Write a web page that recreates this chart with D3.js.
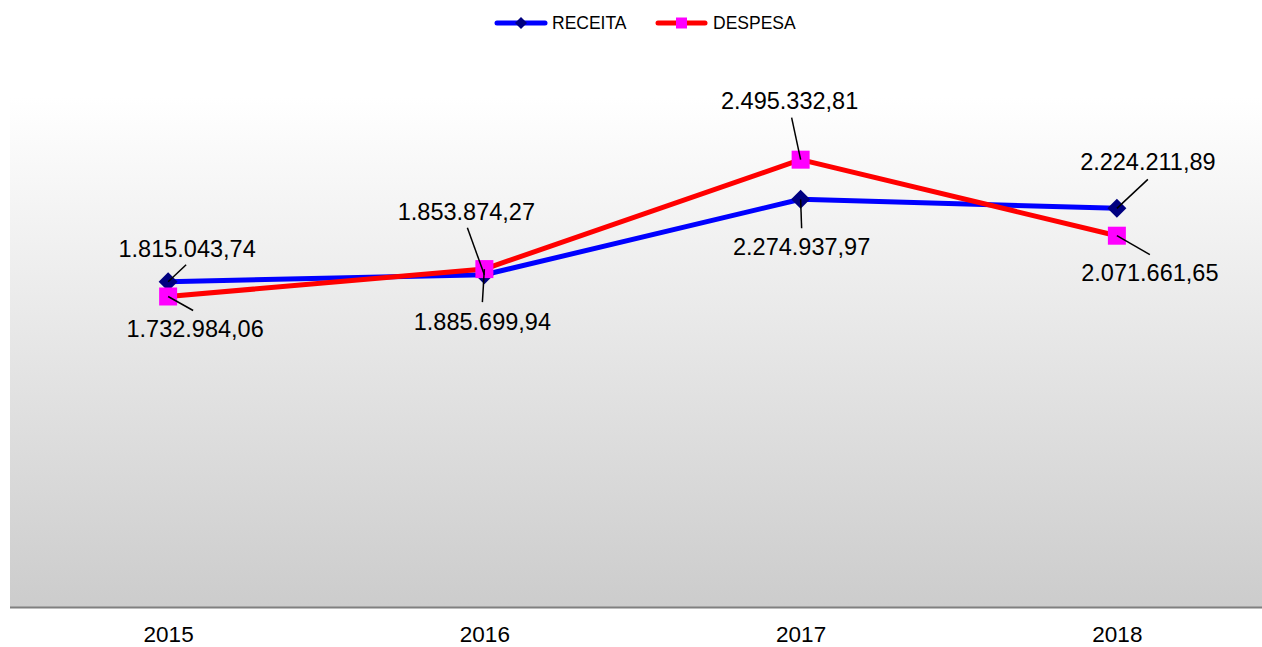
<!DOCTYPE html>
<html>
<head>
<meta charset="utf-8">
<script src="https://cdn.jsdelivr.net/npm/d3@7"></script>
<style>
  html, body { margin: 0; padding: 0; background: #fff; }
  svg { display: block; font-family: Arial, "Liberation Sans", sans-serif; }
</style>
</head>
<body>
<svg id="chart" width="1262" height="647"></svg>
<script>
// Anos e valores (R$)
const years = ["2015", "2016", "2017", "2018"];
const receita = [1815043.74, 1853874.27, 2274937.97, 2224211.89];
const despesa = [1732984.06, 1885699.94, 2495332.81, 2071661.65];
const valueLabels = {
  RECEITA: ["1.815.043,74", "1.853.874,27", "2.274.937,97", "2.224.211,89"],
  DESPESA: ["1.732.984,06", "1.885.699,94", "2.495.332,81", "2.071.661,65"]
};

// Posição manual dos rótulos (deslocamento a partir do marcador) e das linhas de chamada
const labelLayout = {
  RECEITA: [
    { dx: 19,  dy: -25, lx: 18,  ly: -17 },
    { dx: -18, dy: -55, lx: -17, ly: -47 },
    { dx: 1,   dy: 56,  lx: 1,   ly: 29 },
    { dx: 31,  dy: -38, lx: 31,  ly: -29 }
  ],
  DESPESA: [
    { dx: 27,  dy: 41,  lx: 25,  ly: 14 },
    { dx: -2,  dy: 61,  lx: -2,  ly: 33 },
    { dx: -11, dy: -51, lx: -9,  ly: -42 },
    { dx: 33,  dy: 45,  lx: 33,  ly: 19 }
  ]
};

const series = [
  { name: "RECEITA", values: receita, line: "#0000FF", marker: "#000080", shape: "diamond" },
  { name: "DESPESA", values: despesa, line: "#FF0000", marker: "#FF00FF", shape: "square" }
];

const svg = d3.select("#chart");
const plot = { left: 10, right: 1275, top: 97, bottom: 607.5 };

const x = d3.scalePoint().domain(years).range([plot.left, plot.right]).padding(0.5);
const y = d3.scaleLinear().domain([0, 2800000]).range([plot.bottom, 105]);

// Fundo em degradê da área de plotagem
const defs = svg.append("defs");
const grad = defs.append("linearGradient").attr("id", "bg").attr("x1", 0).attr("y1", 0).attr("x2", 0).attr("y2", 1);
grad.append("stop").attr("offset", "0%").attr("stop-color", "#ffffff");
grad.append("stop").attr("offset", "100%").attr("stop-color", "#cccccc");

svg.append("rect")
  .attr("x", plot.left).attr("y", plot.top)
  .attr("width", plot.right - plot.left).attr("height", plot.bottom - plot.top)
  .attr("fill", "url(#bg)");

// Eixo X
const xAxis = svg.append("g")
  .attr("transform", `translate(0,${plot.bottom})`)
  .call(d3.axisBottom(x).tickSize(0));
xAxis.select(".domain").attr("stroke", "#7f7f7f").attr("stroke-width", 2)
  .attr("d", `M${plot.left},0H${plot.right}`);
xAxis.selectAll("text")
  .attr("y", 34).attr("dy", 0)
  .attr("font-size", 22.5).attr("fill", "#000")
  .attr("font-family", "Arial, 'Liberation Sans', sans-serif");

const diamond = s => `M0,${-s}L${s},0L0,${s}L${-s},0Z`;
const square = s => `M${-s},${-s}H${s}V${s}H${-s}Z`;

const line = d3.line().x((d, i) => x(years[i])).y(d => y(d));

// Linhas e marcadores
series.forEach(s => {
  const g = svg.append("g");
  g.append("path").datum(s.values)
    .attr("d", line)
    .attr("fill", "none")
    .attr("stroke", s.line)
    .attr("stroke-width", 5)
    .attr("stroke-linejoin", "round");
  g.selectAll("path.mk").data(s.values).join("path")
    .attr("class", "mk")
    .attr("transform", (d, i) => `translate(${x(years[i])},${y(d)})`)
    .attr("d", s.shape === "diamond" ? diamond(9.5) : square(9))
    .attr("fill", s.marker);
});

// Linhas de chamada e rótulos de dados
series.forEach(s => {
  const lay = labelLayout[s.name];
  const g = svg.append("g");
  s.values.forEach((v, i) => {
    const mx = x(years[i]), my = y(v), L = lay[i];
    g.append("line")
      .attr("x1", mx + L.lx).attr("y1", my + L.ly)
      .attr("x2", mx).attr("y2", my)
      .attr("stroke", "#000").attr("stroke-width", 1.5);
    g.append("text")
      .attr("x", mx + L.dx).attr("y", my + L.dy)
      .attr("text-anchor", "middle")
      .attr("font-size", 23.5)
      .attr("fill", "#000")
      .text(valueLabels[s.name][i]);
  });
});

// Legenda
const legend = svg.append("g");
const legendItems = [
  { s: series[0], x0: 497, x1: 545, tx: 552 },
  { s: series[1], x0: 658, x1: 705, tx: 713 }
];
legendItems.forEach(it => {
  const cy = 23;
  legend.append("line")
    .attr("x1", it.x0).attr("x2", it.x1).attr("y1", cy).attr("y2", cy)
    .attr("stroke", it.s.line).attr("stroke-width", 5).attr("stroke-linecap", "round");
  legend.append("path")
    .attr("transform", `translate(${(it.x0 + it.x1) / 2},${cy})`)
    .attr("d", it.s.shape === "diamond" ? diamond(6) : square(5.5))
    .attr("fill", it.s.marker);
  legend.append("text")
    .attr("x", it.tx).attr("y", 29)
    .attr("font-size", 17.5).attr("fill", "#000")
    .text(it.s.name);
});
</script>
</body>
</html>
